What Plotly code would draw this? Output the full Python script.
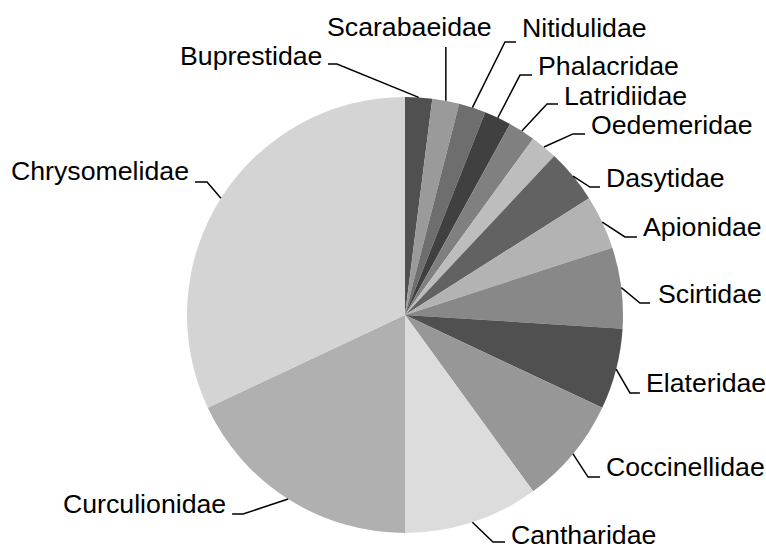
import math
import plotly.graph_objects as go

# ---- data ----
families = ["Buprestidae", "Scarabaeidae", "Nitidulidae", "Phalacridae", "Latridiidae",
            "Oedemeridae", "Dasytidae", "Apionidae", "Scirtidae", "Elateridae",
            "Coccinellidae", "Cantharidae", "Curculionidae", "Chrysomelidae"]
counts = [1, 1, 1, 1, 1, 1, 2, 2, 3, 3, 4, 5, 9, 16]

# ---- styles ----
colors = ["#505050", "#9a9a9a", "#6e6e6e", "#404040", "#808080",
          "#bdbdbd", "#626262", "#b3b3b3", "#888888", "#505050",
          "#979797", "#dcdcdc", "#b0b0b0", "#d4d4d4"]
# label layout: elbow offset from slice edge (px), horizontal run (px), text anchor, text dx, text dy
label_layout = [
    (-81.7, -33.4, -9, "right", 0, -8),
    (0, -53.9, 0, "center", -36, -20),
    (32.6, -65.7, 11, "left", 0, -13.5),
    (22.2, -42.7, 12, "left", 0, -9),
    (25.2, -26.9, 11, "left", 0, -8),
    (29.1, -13.1, 12, "left", 0, -9),
    (17, 11, 10, "left", 0, -9.5),
    (22.7, 14.7, 12, "left", 0, -9.5),
    (18.7, 15.3, 10, "left", 2, -9),
    (13.8, 23.7, 10, "left", 0, -10),
    (15.1, 23.1, 12, "left", 0, -10),
    (20.6, 19.7, 12, "left", 0, -7),
    (-45.1, 14.9, -11, "right", 0, -10),
    (-13.9, -16.1, -12, "right", 0, -11),
]

W, H = 766, 550
CX, CY, R = 405, 315, 218
FONT = "Liberation Sans, Arial, sans-serif"

def px(x):
    return x / W

def py(y):
    return 1 - y / H

fig = go.Figure(go.Pie(
    labels=families, values=counts, sort=False, direction="clockwise", rotation=0,
    marker=dict(colors=colors, line=dict(width=0)),
    textinfo="none", hoverinfo="label+value", showlegend=False,
    domain=dict(x=[px(CX - R), px(CX + R)], y=[py(CY + R), py(CY - R)]),
))

total = sum(counts)
cum = 0
shapes, annotations = [], []
for name, v, (dx1, dy1, hlen, anchor, tdx, tdy) in zip(families, counts, label_layout):
    theta = 2 * math.pi * (cum + v / 2) / total
    cum += v
    x0 = CX + R * math.sin(theta)
    y0 = CY - R * math.cos(theta)
    x1, y1 = x0 + dx1, y0 + dy1
    x2, y2 = x1 + hlen, y1
    path = f"M {px(x0)} {py(y0)} L {px(x1)} {py(y1)} L {px(x2)} {py(y2)}"
    shapes.append(dict(type="path", xref="paper", yref="paper", path=path,
                       line=dict(color="black", width=1.5)))
    if anchor == "left":
        tx = x2 + 5 + tdx
    elif anchor == "right":
        tx = x2 - 5 + tdx
    else:
        tx = x2 + tdx
    ty = y2 + tdy
    annotations.append(dict(x=px(tx), y=py(ty), xref="paper", yref="paper",
                            text=name, showarrow=False, xanchor=anchor, yanchor="middle",
                            borderpad=0,
                            font=dict(family=FONT, size=26.7, color="black")))

fig.update_layout(width=W, height=H, margin=dict(l=0, r=0, t=0, b=0),
                  paper_bgcolor="white", plot_bgcolor="white",
                  shapes=shapes, annotations=annotations)
fig.write_html("out.html", config={"displayModeBar": False},
               post_script="document.body.style.margin='0';document.body.style.overflow='hidden';")
